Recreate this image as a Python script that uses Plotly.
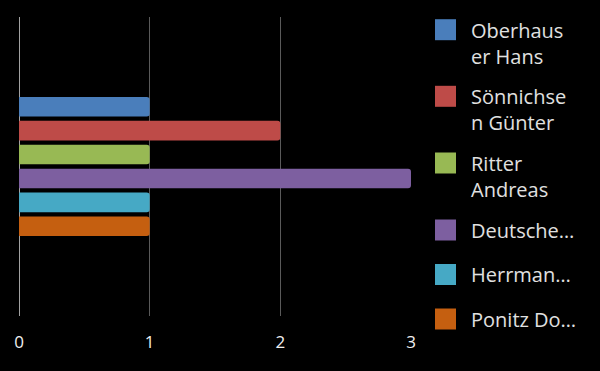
import plotly.graph_objects as go

# ---- data ----
categories = ["Gruppe"]
series_names = ["Oberhauser Hans", "Sönnichsen Günter", "Ritter Andreas",
                "Deutsche…", "Herrman…", "Ponitz Do…"]
legend_labels = ["Oberhaus<br>er Hans", "Sönnichse<br>n Günter", "Ritter<br>Andreas",
                 "Deutsche…", "Herrman…", "Ponitz Do…"]
series_values = [1, 2, 1, 3, 1, 1]
x_ticks = [0, 1, 2, 3]
colors = ["#4a7ebb", "#be4b48", "#98b954", "#7d5fa0", "#46a9c5", "#c55f10"]

W, H = 600, 371
L, R, T, B = 19, 189, 17, 55
PW, PH = W - L - R, H - T - B

def px_x(px):
    return (px - L) / PW

def px_y(py):
    return (H - B - py) / PH

fig = go.Figure()
for name, val, col in zip(series_names, series_values, colors):
    fig.add_trace(go.Bar(
        y=categories, x=[val], name=name, orientation="h",
        marker=dict(color=col, line=dict(width=0), cornerradius=3),
        showlegend=False,
    ))

# manual legend (squares + labels)
square_centers = [29.7, 96.3, 163, 230, 274.5, 319]
for lbl, col, cy in zip(legend_labels, colors, square_centers):
    fig.add_shape(type="rect", xref="paper", yref="paper",
                  x0=px_x(435), x1=px_x(456), y0=px_y(cy + 10.5), y1=px_y(cy - 10.5),
                  fillcolor=col, line=dict(width=0), layer="above")
    multiline = "<br>" in lbl
    fig.add_annotation(
        xref="paper", yref="paper", x=px_x(469),
        y=px_y(cy - 15) if multiline else px_y(cy),
        xanchor="left", yanchor="top" if multiline else "middle",
        text=lbl, showarrow=False, align="left",
        font=dict(family="Open Sans", size=20, color="#e0e0e0"),
    )

fig.update_layout(
    width=W, height=H,
    margin=dict(l=L, r=R, t=T, b=B),
    paper_bgcolor="#000000", plot_bgcolor="#000000",
    barmode="group", bargap=0.52, bargroupgap=0.18,
    xaxis=dict(range=[0, 3], tickvals=x_ticks, showgrid=True, gridcolor="#5a5a5a",
               gridwidth=1, zeroline=False, showline=False,
               tickfont=dict(family="Open Sans", size=17, color="#f0f0f0"),
               ticklabelstandoff=14),
    yaxis=dict(range=[0.5, -0.5], showticklabels=False, showgrid=False,
               zeroline=False, showline=False),
    showlegend=False,
)
# y axis line at x = 0
fig.add_shape(type="line", xref="x", yref="paper", x0=0, x1=0, y0=0, y1=1,
              line=dict(color="#d9d9d9", width=1.5), layer="below")

fig.write_html(
    "out.html",
    config={"displayModeBar": False},
    post_script="document.body.style.margin='0';document.body.style.background='#000';",
)
